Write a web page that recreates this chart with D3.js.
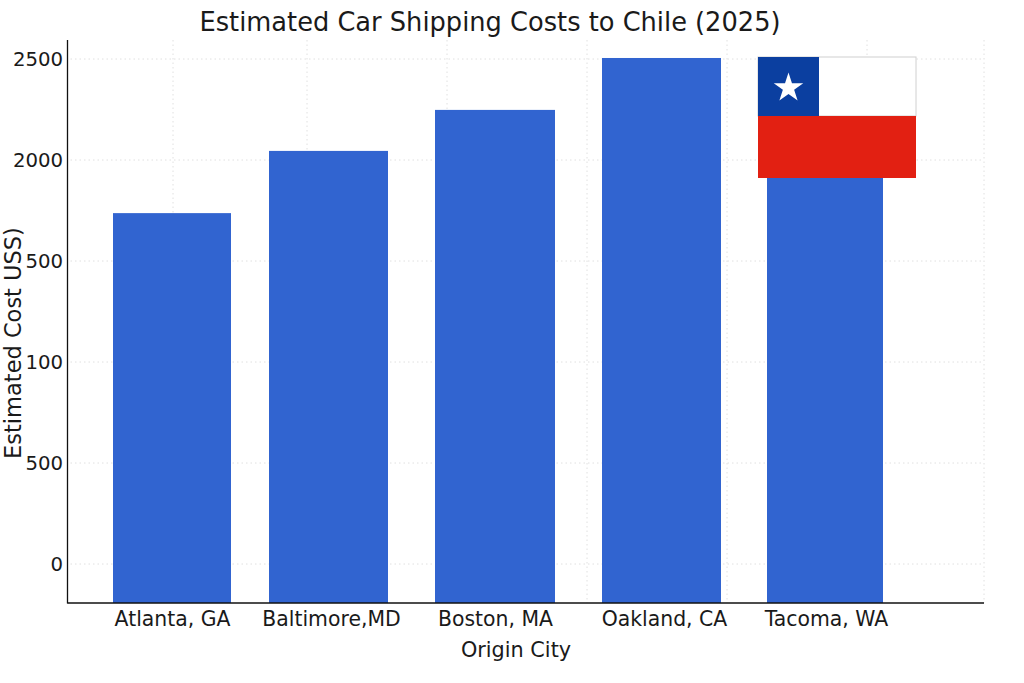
<!DOCTYPE html>
<html>
<head>
<meta charset="utf-8">
<title>Estimated Car Shipping Costs to Chile (2025)</title>
<script src="https://cdn.jsdelivr.net/npm/d3@7"></script>
<style>
    html, body { margin: 0; padding: 0; background: #fff; }
    svg { display: block; }
    text { font-family: "DejaVu Sans", sans-serif; fill: #1a1a1a; }
</style>
</head>
<body>
<svg id="chart" width="1024" height="683"></svg>
<script>
    var cities = ['Atlanta, GA', 'Baltimore,MD', 'Boston, MA', 'Oakland, CA', 'Tacoma, WA'];
    var costs = [1737, 2045, 2248, 2505, 2300];
    var yTicks = [0, 500, 1000, 1500, 2000, 2500];
    // the labels really do read like this in the picture
    var yTickLabels = ['0', '500', '100', '500', '2000', '2500'];

    var svg = d3.select('#chart');
    var plotLeft = 67.5, plotRight = 984, plotTop = 40, plotBottom = 603;

    var y = d3.scaleLinear().domain([0, 2500]).range([564, 59]);

    // the bars are not evenly spaced, so these are ordinal and not a band scale
    var barLeft = d3.scaleOrdinal().domain(cities).range([113, 269, 435, 602, 767]);
    var barRight = d3.scaleOrdinal().domain(cities).range([231, 388, 555, 721, 883]);
    var labelX = d3.scaleOrdinal().domain(cities).range([172, 331, 495, 664, 826]);
    var gridX = [173, 307, 447, 587, 727, 867, 984];

    // grid
    var grid = svg.append('g')
        .attr('stroke', '#e0e0e0')
        .attr('stroke-width', 1)
        .attr('stroke-dasharray', '1.5 3');
    grid.selectAll('.h').data(yTicks).enter().append('line')
        .attr('class', 'h')
        .attr('x1', plotLeft + 3).attr('x2', plotRight)
        .attr('y1', function (d) { return y(d); })
        .attr('y2', function (d) { return y(d); });
    grid.selectAll('.v').data(gridX).enter().append('line')
        .attr('class', 'v')
        .attr('x1', function (d) { return d; })
        .attr('x2', function (d) { return d; })
        .attr('y1', plotTop).attr('y2', plotBottom);

    // bars
    svg.selectAll('.bar').data(cities).enter().append('rect')
        .attr('class', 'bar')
        .attr('x', function (d) { return barLeft(d); })
        .attr('width', function (d) { return barRight(d) - barLeft(d); })
        .attr('y', function (d, i) { return y(costs[i]); })
        .attr('height', function (d, i) { return plotBottom - y(costs[i]); })
        .attr('fill', '#3164d0');

    // axes
    var yAxis = d3.axisLeft(y)
        .tickValues(yTicks)
        .tickSize(0)
        .tickPadding(0)
        .tickFormat(function (d, i) { return yTickLabels[i]; });
    var yG = svg.append('g').attr('transform', 'translate(63,0)').call(yAxis);
    yG.select('.domain').remove();
    yG.selectAll('text').style('font-size', '19.7px').attr('dy', '0.32em');

    var xAxis = d3.axisBottom(labelX).tickValues(cities).tickSize(0).tickPadding(0);
    var xG = svg.append('g').attr('transform', 'translate(0,' + plotBottom + ')').call(xAxis);
    xG.select('.domain').remove();
    xG.selectAll('text').style('font-size', '20.4px').attr('y', 9).attr('dy', '0.71em');

    svg.append('line')
        .attr('x1', plotLeft).attr('x2', plotLeft).attr('y1', plotTop).attr('y2', plotBottom + 0.5)
        .attr('stroke', '#111').attr('stroke-width', 1.3);
    svg.append('line')
        .attr('x1', plotLeft).attr('x2', plotRight).attr('y1', plotBottom).attr('y2', plotBottom)
        .attr('stroke', '#111').attr('stroke-width', 1.3);

    // titles
    svg.append('text')
        .attr('x', 490).attr('y', 31)
        .attr('text-anchor', 'middle')
        .style('font-size', '25.7px')
        .text('Estimated Car Shipping Costs to Chile (2025)');
    svg.append('text')
        .attr('x', 516).attr('y', 657)
        .attr('text-anchor', 'middle')
        .style('font-size', '20.8px')
        .text('Origin City');
    svg.append('text')
        .attr('transform', 'translate(21,343) rotate(-90)')
        .attr('text-anchor', 'middle')
        .style('font-size', '22.5px')
        .text('Estimated Cost USS)');

    // flag of Chile over the last bar
    var flag = svg.append('g').attr('transform', 'translate(758,57)');
    flag.append('rect').attr('width', 158).attr('height', 59)
        .attr('fill', '#fff').attr('stroke', '#d0d0d0');
    flag.append('rect').attr('width', 61).attr('height', 59).attr('fill', '#0b3fa0');
    flag.append('rect').attr('y', 59).attr('width', 158).attr('height', 62).attr('fill', '#e22012');
    flag.append('path')
        .attr('d', d3.symbol().type(d3.symbolStar).size(270)())
        .attr('transform', 'translate(30.5,31)')
        .attr('fill', '#fff');
</script>
</body>
</html>
